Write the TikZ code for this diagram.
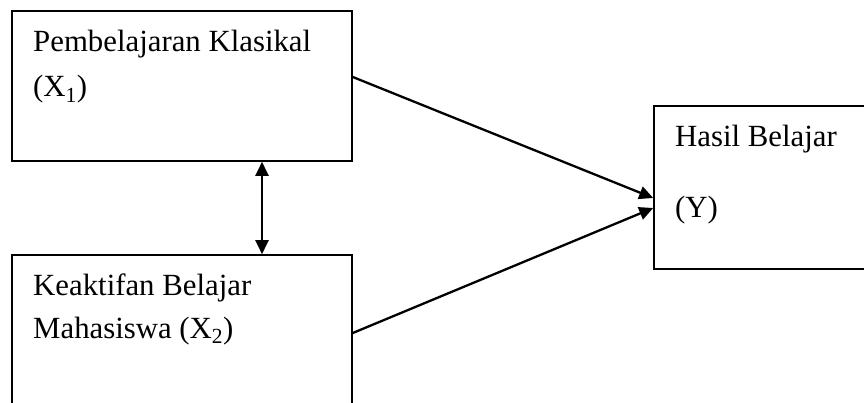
\documentclass[tikz,border=0pt]{standalone}
\usepackage{fontspec}
\setmainfont{Liberation Serif}
\usetikzlibrary{arrows.meta}
\tikzset{
  kotak/.style={draw, line width=1.6pt, rectangle, inner sep=0pt},
  teks/.style={anchor=base west, inner sep=0pt, font=\fontsize{30.8}{36}\selectfont},
  ujung/.style={Triangle[length=14pt,width=13pt]},
  panah/.style={line width=2.3pt, -{Triangle[length=14pt,width=13pt]}},
}
\begin{document}
\begin{tikzpicture}[x=1pt,y=-1pt]
\useasboundingbox (0,0) rectangle (864,403);
\clip (0,0) rectangle (864,403);
\node[kotak, minimum width=340pt, minimum height=150pt] (x1) at (182,86){};
\node[kotak, minimum width=340pt, minimum height=170pt] (x2) at (182,340){};
\node[kotak, minimum width=250pt, minimum height=163pt] (y) at (779,187.5){};
\node[teks] (t1a) at (33,52){Pembelajaran Klasikal};
\node[teks] (t1b) at (33,97){(X\textsubscript{1})};
\node[teks] (t2a) at (33,295){Keaktifan Belajar};
\node[teks] (t2b) at (33,338){Mahasiswa (X\textsubscript{2})};
\node[teks] (t3a) at (675,147){Hasil Belajar};
\node[teks] (t3b) at (675,218){(Y)};
\coordinate (v) at (262,0);
\coordinate (h1) at (0,77);
\coordinate (h2) at (0,333);
\coordinate (m1) at (0,198);
\coordinate (m2) at (0,208);
\draw[line width=2.3pt, {Triangle[length=14pt,width=13pt]}-{Triangle[length=14pt,width=13pt]}] (x1.south -| v) -- (x2.north -| v);
\draw[panah] (x1.east |- h1) -- (y.west |- m1);
\draw[panah] (x2.east |- h2) -- (y.west |- m2);
\end{tikzpicture}
\end{document}
